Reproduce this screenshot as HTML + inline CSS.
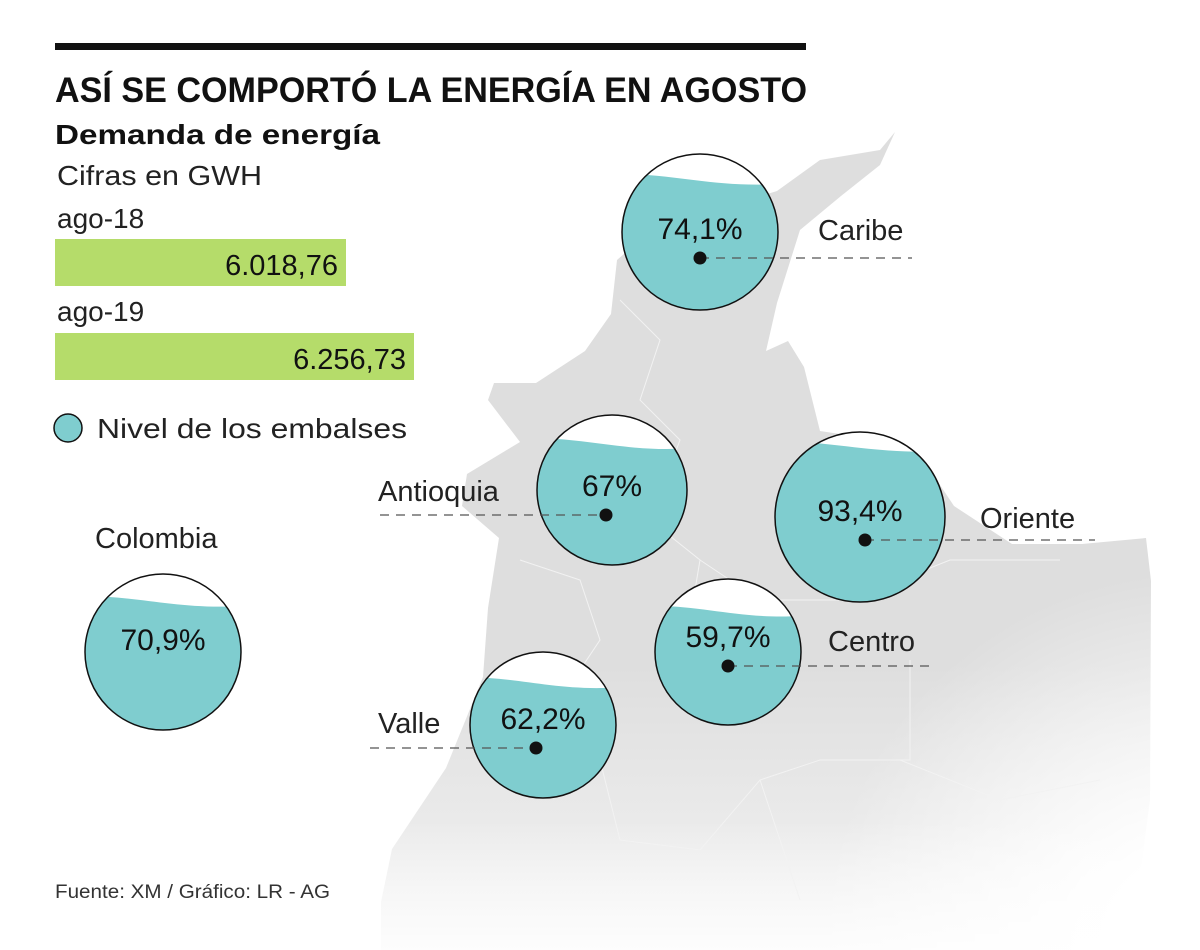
<!DOCTYPE html>
<html><head><meta charset="utf-8">
<style>
html,body{margin:0;padding:0;background:#fff;}
svg{display:block;font-family:"Liberation Sans",sans-serif;}
</style></head>
<body>
<svg width="1200" height="950" viewBox="0 0 1200 950">
<defs>
<linearGradient id="mapg" x1="0" y1="0" x2="0" y2="1">
<stop offset="0" stop-color="#dedede"/>
<stop offset="0.65" stop-color="#dedede"/>
<stop offset="1" stop-color="#f4f4f4"/>
</linearGradient>
<radialGradient id="fadeR" cx="1200" cy="950" r="380" gradientUnits="userSpaceOnUse">
<stop offset="0.25" stop-color="#fff" stop-opacity="1"/>
<stop offset="1" stop-color="#fff" stop-opacity="0"/>
</radialGradient>
<linearGradient id="fadeB" x1="0" y1="0" x2="0" y2="1">
<stop offset="0" stop-color="#fff" stop-opacity="0"/>
<stop offset="1" stop-color="#fff" stop-opacity="0.8"/>
</linearGradient>
</defs>
<path fill="url(#mapg)" d="M895,132 L880,150 L820,160 L777,191 L700,215 L640,240 L617,260 L611,314 L585,351 L536,383 L494,383 L488,400 L520,442 L467,474 L462,506 L499,538 L488,608 L483,677 L446,768 L392,849 L381,902 L381,950 L1130,950 L1150,800 L1151,581 L1146,538 L1082,544 L1012,544 L954,506 L930,470 L880,440 L820,431 L804,367 L788,341 L766,351 L777,303 L800,230 L841,196 L880,165 Z"/>
<rect x="820" y="540" width="380" height="410" fill="url(#fadeR)"/>
<rect x="380" y="820" width="820" height="130" fill="url(#fadeB)"/>
<g stroke="#f2f2f2" stroke-width="1" fill="none">
<path d="M620,300 L660,340 L640,400 L680,440 L650,520 L700,560 L690,620"/>
<path d="M520,560 L580,580 L600,640 L560,700 L600,760 L620,840 L700,850 L760,780 L820,760 L910,760 L910,660"/>
<path d="M700,560 L760,600 L850,600 L950,560 L1060,560"/>
<path d="M760,780 L800,900 M900,760 L1000,800 L1100,780"/>
</g>

<rect x="55" y="43" width="751" height="7" fill="#111"/>
<text x="55" y="102" font-size="35" font-weight="bold" fill="#111" textLength="752" lengthAdjust="spacingAndGlyphs">ASÍ SE COMPORTÓ LA ENERGÍA EN AGOSTO</text>
<text x="55" y="144" font-size="28" font-weight="bold" fill="#111" textLength="325" lengthAdjust="spacingAndGlyphs">Demanda de energía</text>
<text x="57" y="185" font-size="28" fill="#222" textLength="205" lengthAdjust="spacingAndGlyphs">Cifras en GWH</text>

<g id="bars"></g>

<circle cx="68" cy="428" r="14" fill="#7fcdcf" stroke="#111" stroke-width="1.5"/>
<text x="97" y="438" font-size="28" fill="#222" textLength="310" lengthAdjust="spacingAndGlyphs">Nivel de los embalses</text>

<g id="circles"></g>

<text x="55" y="898" font-size="19" fill="#333" textLength="275" lengthAdjust="spacingAndGlyphs">Fuente: XM / Gráfico: LR - AG</text>
</svg>
<script>
const NS="http://www.w3.org/2000/svg";
// Demand data
const barLabels=["ago-18","ago-19"];
const barValues=[6018.76,6256.73];
const barTexts=["6.018,76","6.256,73"];
// Reservoir data
const regions=["Caribe","Antioquia","Oriente","Centro","Colombia","Valle"];
const levels=[74.1,67,93.4,59.7,70.9,62.2];
const levelTexts=["74,1%","67%","93,4%","59,7%","70,9%","62,2%"];

function mk(tag,attrs,parent){const e=document.createElementNS(NS,tag);for(const k in attrs)e.setAttribute(k,attrs[k]);parent.appendChild(e);return e;}

const bx0=55;
function barW(v){return 291+(v-6018.76)*(359-291)/(6256.73-6018.76);}
const bars=document.getElementById('bars');
const barY=[239,333];
const labY=[228,321];
barValues.forEach((v,i)=>{
  const t=mk('text',{x:57,y:labY[i],'font-size':28,fill:'#222'},bars);
  t.textContent=barLabels[i];
  
  
  const w=barW(v);
  const r=mk('rect',{x:bx0,y:barY[i],width:w,height:47,fill:'#b5dc6a'},bars);
  
  
  const vt=mk('text',{x:bx0+w-8,y:barY[i]+36,'font-size':29,fill:'#111','text-anchor':'end'},bars);
  vt.textContent=barTexts[i];
  
  
});

const layout={
 Caribe:{cx:700,cy:232,r:78,dot:[700,258],line:[700,912],lab:[818,240]},
 Antioquia:{cx:612,cy:490,r:75,dot:[606,515],line:[380,606],lab:[378,501]},
 Oriente:{cx:860,cy:517,r:85,dot:[865,540],line:[865,1095],lab:[980,528]},
 Centro:{cx:728,cy:652,r:73,dot:[728,666],line:[728,935],lab:[828,651]},
 Colombia:{cx:163,cy:652,r:78,dot:null,line:null,lab:[95,548]},
 Valle:{cx:543,cy:725,r:73,dot:[536,748],line:[370,536],lab:[378,733]}
};
const cg=document.getElementById('circles');
regions.forEach((name,i)=>{
  const L=layout[name];
  const g=mk('g',{},cg);
  
  
  const id='clip'+i;
  const cp=mk('clipPath',{id:id},g);
  mk('circle',{cx:L.cx,cy:L.cy,r:L.r},cp);
  mk('circle',{cx:L.cx,cy:L.cy,r:L.r,fill:'#fff'},g);
  const frac=0.55+0.4*levels[i]/100;
  const top=L.cy+L.r-2*L.r*frac;
  const x0=L.cx-L.r-2,x1=L.cx+L.r+2;
  const w=mk('path',{d:`M${x0},${top-4} C${L.cx-L.r*0.3},${top-4} ${L.cx+L.r*0.2},${top+10} ${x1},${top+6} L${x1},${L.cy+L.r+2} L${x0},${L.cy+L.r+2} Z`,fill:'#7fcdcf','clip-path':`url(#${id})`},g);
  
  
  mk('circle',{cx:L.cx,cy:L.cy,r:L.r,fill:'none',stroke:'#111','stroke-width':1.5},g);
  const pt=mk('text',{x:L.cx,y:(L.dot?L.dot[1]-19:L.cy-2),'font-size':30,fill:'#111','text-anchor':'middle'},g);
  pt.textContent=levelTexts[i];
  
  
  if(L.line){
    const ln=mk('line',{x1:L.line[0],x2:L.line[1],y1:L.dot[1],y2:L.dot[1],stroke:'#555','stroke-width':1.3,'stroke-dasharray':'9,7'},g);
    
    
    const d=mk('circle',{cx:L.dot[0],cy:L.dot[1],r:6.5,fill:'#111'},g);
    
    
  }
  const lt=mk('text',{x:L.lab[0],y:L.lab[1],'font-size':29,fill:'#222'},cg);
  lt.textContent=name;
  
  
});
</script>
</body></html>
